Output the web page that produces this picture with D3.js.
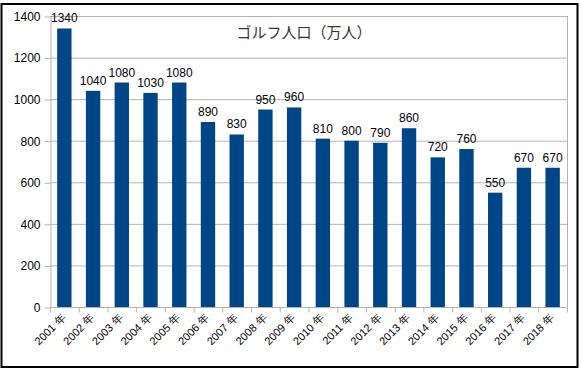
<!DOCTYPE html>
<html><head><meta charset="utf-8">
<script src="https://cdn.jsdelivr.net/npm/d3@7"></script>
<style>body{margin:0;background:#fff}svg{display:block}</style>
</head><body>
<svg id="c" width="581" height="371"></svg>
<script>
const title = "ゴルフ人口（万人）";
const categories = ["2001 年","2002 年","2003 年","2004 年","2005 年","2006 年","2007 年","2008 年","2009 年","2010 年","2011 年","2012 年","2013 年","2014 年","2015 年","2016 年","2017 年","2018 年"];
const values = [1340,1040,1080,1030,1080,890,830,950,960,810,800,790,860,720,760,550,670,670];
const yTicks = [0,200,400,600,800,1000,1200,1400];

const svg = d3.select("#c");
const m = {left:50, right:567, top:16, bottom:307};
svg.append("rect").attr("x",1.5).attr("y",4).attr("width",576).attr("height",363)
  .attr("fill","#fff").attr("stroke","#000").attr("stroke-width",2);

const x = d3.scaleBand().domain(categories).range([m.left,m.right]).paddingInner(0.5).paddingOuter(0.25);
const y = d3.scaleLinear().domain([0,1400]).range([m.bottom,m.top]);
const font = "'Liberation Sans', Arial, sans-serif";

// gridlines
svg.append("g").selectAll("line").data(yTicks).join("line")
  .attr("x1",m.left).attr("x2",m.right).attr("y1",d=>y(d)+0.5).attr("y2",d=>y(d)+0.5)
  .attr("stroke","#b3b3b3").attr("stroke-width",1);
svg.append("line").attr("x1",m.right+0.5).attr("x2",m.right+0.5).attr("y1",m.top).attr("y2",m.bottom)
  .attr("stroke","#b3b3b3");

// y axis
const ya = svg.append("g").attr("transform",`translate(${m.left+0.5},0.5)`)
  .call(d3.axisLeft(y).tickValues(yTicks).tickFormat(d3.format("d")).tickSize(6).tickSizeOuter(0).tickPadding(4));
ya.select(".domain").attr("stroke","#b3b3b3");
ya.selectAll(".tick line").attr("stroke","#b3b3b3");
ya.selectAll(".tick text").attr("font-family",font).attr("font-size",12).attr("fill","#000");

// bars
svg.append("g").selectAll("rect").data(values).join("rect")
  .attr("x",(d,i)=>x(categories[i])).attr("width",x.bandwidth())
  .attr("y",d=>y(d)).attr("height",d=>y(0)-y(d)).attr("fill","#004586");

// x axis
const xa = svg.append("g").attr("transform",`translate(0,${m.bottom+0.5})`);
xa.append("line").attr("x1",m.left).attr("x2",m.right).attr("stroke","#b3b3b3");
xa.selectAll("line.t").data(d3.range(categories.length+1)).join("line").attr("class","t")
  .attr("x1",i=>m.left+0.5+i*(m.right-m.left)/categories.length)
  .attr("x2",i=>m.left+0.5+i*(m.right-m.left)/categories.length)
  .attr("y1",0).attr("y2",5).attr("stroke","#b3b3b3");
xa.selectAll("text").data(categories).join("text")
  .attr("transform",d=>`translate(${x(d)+x.bandwidth()/2+2},${11}) rotate(-45)`)
  .attr("text-anchor","end").attr("font-family",font).attr("font-size",11).attr("fill","#000")
  .text(d=>d);

// value labels
svg.append("g").selectAll("text").data(values).join("text")
  .attr("x",(d,i)=>x(categories[i])+x.bandwidth()/2).attr("y",d=>y(d)-6)
  .attr("text-anchor","middle").attr("font-family",font).attr("font-size",12).attr("fill","#000")
  .text(d=>d);

// title
svg.append("text").attr("x",304).attr("y",38).attr("text-anchor","middle")
  .attr("font-family","'Noto Sans CJK JP', sans-serif").attr("font-size",15).attr("fill","#333")
  .text(title);
</script>
</body></html>
